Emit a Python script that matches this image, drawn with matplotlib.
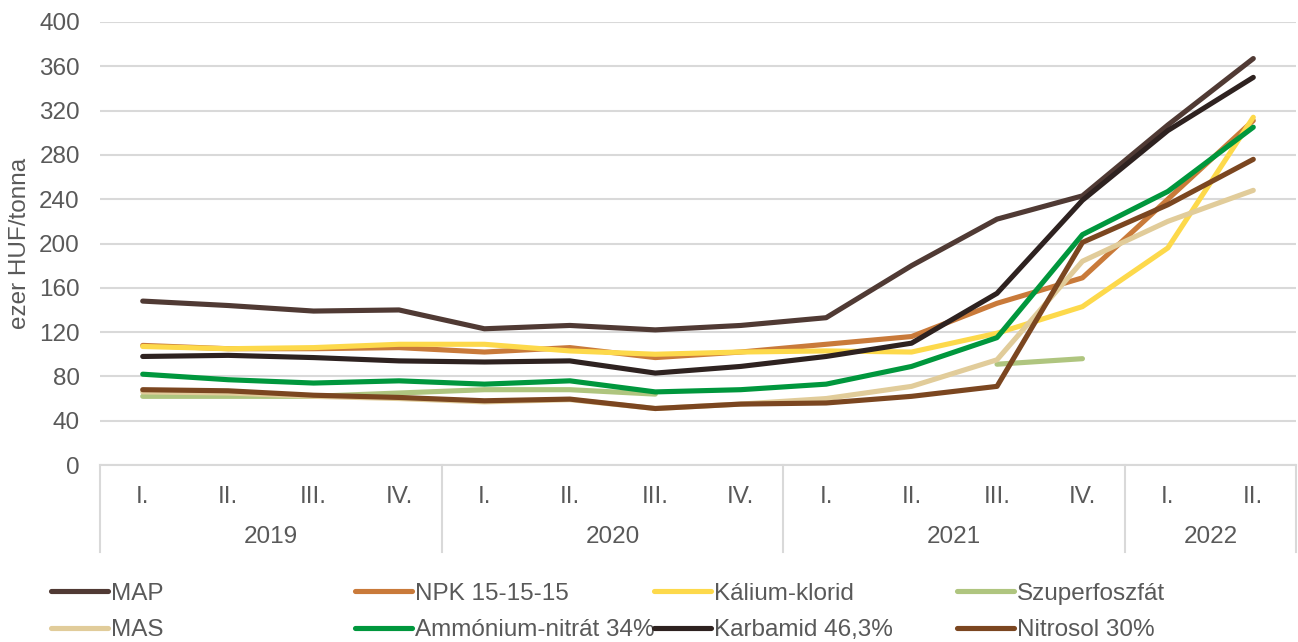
import numpy as np
import matplotlib
matplotlib.use("Agg")
import matplotlib.pyplot as plt
from matplotlib.lines import Line2D
import matplotlib.transforms as mtransforms

quarters = ["I.", "II.", "III.", "IV.", "I.", "II.", "III.", "IV.",
            "I.", "II.", "III.", "IV.", "I.", "II."]
years = ["2019", "2020", "2021", "2022"]
year_counts = [4, 4, 4, 2]

nan = np.nan
MAP = [148, 144, 139, 140, 123, 126, 122, 126, 133, 180, 222, 243, 307, 367]
NPK = [108, 105, 105, 106, 102, 106, 97, 102, 109, 116, 146, 169, 240, 311]
Kalium = [107, 105, 106, 109, 109, 103, 100, 102, 103, 102, 119, 143, 196, 314]
Szuper = [62, 62, 62, 65, 68, 68, 64, nan, nan, nan, 91, 96, nan, nan]
MAS = [66, 65, 62, 60, 57, 59, 51, 55, 60, 71, 95, 184, 220, 248]
Ammonium = [82, 77, 74, 76, 73, 76, 66, 68, 73, 89, 115, 208, 247, 305]
Karbamid = [98, 99, 97, 94, 93, 94, 83, 89, 98, 110, 155, 239, 302, 350]
Nitrosol = [68, 67, 63, 61, 58, 59.5, 51, 55, 56, 62, 71, 201, 235, 276]

series = [
    ("MAP", MAP, "#503A34"),
    ("NPK 15-15-15", NPK, "#C97A3A"),
    ("Kálium-klorid", Kalium, "#FDD94B"),
    ("Szuperfoszfát", Szuper, "#AFC57F"),
    ("MAS", MAS, "#E1CC9A"),
    ("Ammónium-nitrát 34%", Ammonium, "#00973D"),
    ("Karbamid 46,3%", Karbamid, "#2E2220"),
    ("Nitrosol 30%", Nitrosol, "#7B4620"),
]

plt.rcParams['font.family'] = ['Liberation Sans', 'DejaVu Sans']
txt_color = "#595959"
grid_color = "#D9D9D9"
fs = 17.5

fig = plt.figure(figsize=(12.98, 6.42), dpi=100)
W, H = 1298, 642
ax = fig.add_axes([100 / W, 1 - 465 / H, 1196 / W, 443 / H])

x = np.arange(len(quarters))
handles = []
for name, vals, col in series:
    h, = ax.plot(x, vals, color=col, lw=3.7, solid_capstyle='round',
                 solid_joinstyle='round', label=name, zorder=3)
    handles.append(h)

ax.set_xlim(-0.5, len(quarters) - 0.5)
ax.set_ylim(0, 400)
ax.set_yticks(np.arange(0, 401, 40))
ax.yaxis.grid(True, color=grid_color, lw=1.5)
ax.set_axisbelow(True)
for s in ["top", "right", "left"]:
    ax.spines[s].set_visible(False)
ax.spines["bottom"].set_color(grid_color)
ax.spines["bottom"].set_linewidth(1.5)
ax.tick_params(axis='y', length=0, pad=14.5, labelsize=fs, labelcolor=txt_color)
ax.set_xticks(x)
ax.set_xticklabels(quarters)
ax.tick_params(axis='x', length=0, pad=15, labelsize=fs, labelcolor=txt_color)
ax.set_ylabel("ezer HUF/tonna", fontsize=fs, color=txt_color, labelpad=6)

trans = mtransforms.blended_transform_factory(ax.transData, ax.transAxes)
px = 1 / 443.0
bounds = [-0.5]
for c in year_counts:
    bounds.append(bounds[-1] + c)
for b in bounds:
    ax.add_line(Line2D([b, b], [0, -87 * px], transform=trans, color=grid_color,
                       lw=1.5, clip_on=False))
start = -0.5
for yr, c in zip(years, year_counts):
    ax.text(start + c / 2, -72 * px, yr, transform=trans, ha='center', va='center',
            fontsize=fs, color=txt_color)
    start += c

# legend: 4 columns, 2 rows, row-wise order
col_x = [51, 355, 654, 957]
for ci in range(4):
    hs = [handles[ci], handles[ci + 4]]
    fig.legend(hs, [h.get_label() for h in hs], loc='center left',
               bbox_to_anchor=(col_x[ci] / W, 1 - 612 / H),
               frameon=False, fontsize=fs, handlelength=2.35,
               handletextpad=0.1, labelspacing=0.6, borderpad=0,
               borderaxespad=0, labelcolor=txt_color)

fig.savefig("out.png", dpi=100)
